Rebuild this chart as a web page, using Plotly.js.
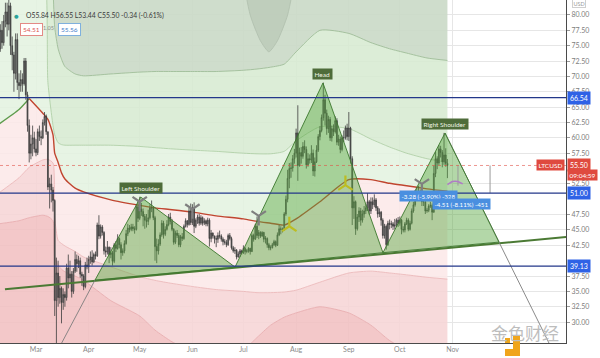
<!DOCTYPE html>
<html><head><meta charset="utf-8">
<script src="https://cdn.plot.ly/plotly-3.0.1.min.js"></script>
<style>html,body{margin:0;padding:0;background:#fff}#chart{width:600px;height:358px}</style>
</head><body><div id="chart"></div>
<script>
// ---------- DATA ----------
const startDate = '2020-02-08';
const firstOpen = 73.8;
const closes = [
 74.5,77.5,75.5,79.0,80.5,78.5,81.5,75.0,73.5,70.5,76.0,69.0,68.5,69.5,68.8,72.5,67.0,62.0,57.5,59.0,60.0,58.2,
 57.6,61.0,60.2,60.0,62.5,63.5,61.0,52.0,52.5,51.5,49.8,33.5,38.0,34.0,35.5,33.2,34.5,34.0,38.8,37.2,37.8,35.0,38.3,40.2,39.5,40.0,37.8,37.5,35.8,39.3,39.0,
 40.2,40.6,39.8,41.0,40.8,45.8,44.0,45.5,44.6,41.6,41.4,42.2,41.0,41.3,39.9,42.6,42.0,43.6,42.6,41.3,41.6,42.8,44.4,45.3,45.1,45.5,45.2,45.1,48.8,46.9,
 48.4,48.0,47.2,46.6,46.4,47.0,48.6,48.6,47.0,42.3,41.6,42.7,44.2,46.1,44.3,45.1,45.9,47.1,46.4,45.1,43.0,44.5,44.1,42.6,43.9,43.6,45.6,46.5,45.9,48.1,46.2,
 48.6,45.6,46.6,47.1,46.1,47.0,46.1,46.5,46.0,46.6,43.6,44.5,44.0,43.6,43.5,44.1,44.0,43.5,43.1,43.0,42.6,44.1,43.6,42.1,41.6,41.7,40.6,41.1,41.6,41.3,
 42.0,41.5,41.6,42.0,41.5,44.1,43.5,45.6,44.1,44.6,44.0,44.6,43.5,43.6,42.6,42.1,42.1,42.6,43.1,42.5,44.2,45.2,45.1,45.0,47.6,50.0,53.4,55.0,55.1,56.6,57.5,
 60.8,55.5,57.6,57.0,58.6,58.1,55.6,56.6,56.4,57.5,54.6,56.1,58.0,60.2,61.2,63.3,66.2,64.0,61.5,63.0,60.0,61.5,61.0,62.8,59.3,59.8,58.1,60.0,60.0,61.6,60.2,
 61.6,56.6,48.6,49.6,45.2,47.1,48.1,46.6,47.6,48.1,48.6,49.6,48.1,49.6,49.1,49.9,48.6,47.6,47.9,46.6,44.1,45.6,42.6,46.1,45.9,46.0,45.6,45.8,46.6,46.1,
 46.6,45.1,45.0,46.0,46.6,45.1,46.1,48.1,49.1,50.9,50.9,51.1,50.1,49.6,49.6,48.1,48.2,48.9,49.0,47.9,54.2,56.6,55.9,58.2,57.6,56.1,57.2,55.84,55.50
];
const highs = [
 76,78.5,79,80,82,82,83.5,82,76.5,74,77,77,70.5,71,70.5,73,73,67.5,63,60.5,62,61,
 59.8,61.5,62,61.2,63,64.2,63.8,61,53.5,54,52,50,40.5,40,37.5,35.8,35.5,35,39.5,41,40,38.3,38.8,41.5,41,40.8,40.5,38.2,37.8,39.8,40.5,
 40.8,41.5,41.7,41.3,41.5,46.2,47.4,45.9,45.8,44.8,42.3,43.2,42.3,42.2,41.6,42.9,43.2,44.3,43.8,43,42,43.3,45,46,45.8,46,46,45.6,49.2,49.8,
 50.4,49.4,48.5,47.6,47.6,48.3,49.2,49.8,48.8,47.3,43.6,43.5,44.6,46.6,46.5,45.6,46.6,47.6,47.8,46.8,45.3,44.9,45,44.5,44.2,44.5,45.9,46.9,46.6,48.6,49.3,
 49.2,49.5,46.9,47.5,47.6,47.4,47.2,46.9,46.7,47,46.9,45,44.6,44.1,44.1,44.6,44.9,44.3,43.8,43.5,43.4,44.4,44.5,43.9,42.4,42.2,41.9,41.5,41.9,41.8,
 42.5,42.2,41.9,42.2,42.1,44.4,44.4,46,47.2,45,44.8,44.8,44.7,44,43.8,42.9,42.5,42.9,43.4,43.3,44.6,45.8,45.6,45.4,47.9,50.6,54.8,55.9,56,57.2,58.2,
 61.5,65.3,58.4,58.5,59.3,59.6,58.6,57.5,57.3,58.8,58.1,56.8,58.8,60.6,61.9,63.8,69,67,64.6,63.6,63.4,62,62.2,63.5,63.2,60.5,60.2,60.4,61.2,62,62.3,
 64.2,61.8,57,50.5,49.8,47.6,48.7,48.6,48.3,48.9,49.2,51,49.9,50.3,50.3,50.8,50.2,48.9,48.5,48.1,46.9,46,45.9,46.5,46.7,46.5,46.3,46.8,46.9,47.1,
 47.2,46.8,45.6,46.3,47,46.9,46.5,48.5,49.6,51.5,51.9,52.2,51.6,50.6,50.3,49.9,48.6,49.2,49.6,49.3,55.5,57.7,57,58.8,58.7,58,60.8,58.3,56.55
];
const lows = [
 72.5,74,74.5,75,78,76.5,77.5,73.5,71,67.5,69.5,67.8,66.3,67.5,67.5,68.5,66.2,61,56,56.5,57,57.6,
 57,57.2,59.5,58.8,59.8,62,60.5,51.5,48.5,49.5,48,31,24,32.5,33,29.8,32,32.5,33.5,35.5,36.5,34,34.6,38,38.2,38.8,37.2,35.9,35.2,35.5,38.6,
 38,39.5,39.2,39.6,40.2,40.6,43.5,43.6,44.1,41,40.6,41,39.6,40.4,39.2,39.6,41.4,41.8,42,40.2,40.8,41.2,42.6,44,44.6,44.8,44.8,44.4,44.9,46.3,
 46.6,47.3,45.6,45.2,45.4,45.8,46.7,47.9,46.6,40,39.6,41,42.4,43.9,43.6,44,44.9,45.6,45.9,44.8,42.6,42.7,43.7,42.2,42.2,43.2,43.4,45.4,45.4,45.7,45.8,
 45.8,44.5,45.3,46,45.7,45.8,45.7,45.8,45.6,45.6,42.3,43,43.6,42.8,42.2,42.9,43.6,43.1,42.5,42.6,42.2,42.4,43.3,41.8,41.3,41.1,40.2,40.5,40.6,41,
 41.1,41,41.2,41.3,41,41.4,43.1,43.4,43.7,43.5,43.7,43.9,43,42.8,42.1,41.7,41.7,42,42.4,42.2,42.4,44,44.3,44.6,44.9,47.3,49.5,51.8,53.5,54.5,55.8,
 56.8,53,55.3,55.8,56.6,57.5,55,55.3,55.8,55.9,53.8,53.7,55.9,57.7,59.6,60.9,62.8,62,60.5,60.8,59.5,59.4,60.3,60.7,58.8,58.7,57.5,57.8,59.3,59.7,59.6,
 59.5,55.8,45.8,46.8,44.2,44.9,46.3,45.7,46.2,47,47.6,48.1,47.5,47.6,48.4,48.7,48.1,47,47.1,45.7,43.6,43.6,41.8,42.4,45.1,45.3,45,45.1,45.5,45.5,
 45.7,44.3,44.6,44.6,45.8,44.8,44.9,45.9,47.8,48.8,50.2,50.3,49.8,48.9,48.9,47.6,47.8,47.9,48.6,46.6,47.8,53.6,54.9,55.5,56.8,55.2,55.6,55.3,53.44
];

// indicator bands
const bandDates = ['2020-02-08','2020-02-20','2020-02-26','2020-03-05','2020-03-08','2020-03-11','2020-03-12','2020-03-14','2020-03-16','2020-03-18',
 '2020-03-24','2020-03-29','2020-04-14','2020-05-01','2020-05-10','2020-05-20','2020-06-01','2020-06-15','2020-07-01','2020-07-09',
 '2020-07-17','2020-07-25','2020-08-01','2020-08-15','2020-09-01','2020-09-14','2020-09-25','2020-10-05','2020-10-17','2020-10-29'];
const midLine = [62.2,64.6,66.4,64.0,63.0,60.5,57.5,56.0,54.3,53.3,51.8,51.2,49.9,49.0,48.6,48.3,47.9,47.3,46.8,46.4,46.1,45.8,46.8,49.6,53.2,53.2,52.6,52.2,51.7,51.3];
const upper1 = [88,88,88,88,69,62,60.5,59.2,58.9,58.8,58.8,58.8,58.8,58.6,58.4,58.2,58.0,57.8,57.5,57.4,57.4,57.8,59.5,61.8,61.5,59.8,58.5,57.5,56.6,56.0];
const upper2 = [95,95,95,95,95,84,78,74.5,72.8,71.6,70.4,70.1,70.4,70.7,70.8,70.8,70.8,70.8,71.0,71.2,71.5,72.0,74.0,77.5,77.0,75.5,74.5,73.8,73.0,72.6];
const lower1 = [51,53.5,55.2,56.4,56.5,55.9,47,43.3,42.8,42.4,41.5,40.6,39.0,37.4,36.8,36.3,35.8,35.3,35.0,34.8,34.8,34.9,35.2,36.5,38.0,38.3,38.0,37.7,37.3,37.0];
const lower2 = [46,46.5,47.0,47.4,47.2,46.5,40.5,39.3,38.6,38.2,37.5,36.8,33.5,31.0,28.7,26.8,25.2,24.5,25.5,27.5,29.5,30.8,31.5,32.5,31.5,29.5,27.0,25.5,24.5,24.0];
const valleyDates = ['2020-06-27','2020-07-05','2020-07-11','2020-07-16','2020-07-21','2020-07-27','2020-08-04'];
const valleyPrices = [92,80,75.8,74.0,75.8,80,92];
const bandCeiling = 95;

// drawings
const hsDates  = ['2020-04-04 17:00','2020-05-01 14:00','2020-06-26 02:00','2020-08-16 19:00','2020-09-21 02:00','2020-10-27 14:00','2020-11-28 09:00'];
const hsPrices = [36.84, 50.36, 38.96, 68.93, 41.3, 60.78, 43.03];
const hsLabels = ['Left Shoulder','Head','Right Shoulder'];
const neckDates = ['2020-02-11 18:00','2021-01-06 18:00'];
const neckPrices = [35.37, 43.84];
const extLeftDates = ['2020-03-11 03:00','2020-04-04 17:00'];
const extLeftPrices = [24, 36.84];
const extRightDates = ['2020-10-27 14:00','2021-01-01 09:00'];
const extRightPrices = [60.78, 24];
const levels = [66.54, 51.00, 39.13];
const lastPrice = 55.50;
const vDates = ['2020-05-01','2020-06-01','2020-07-10','2020-10-14'];
const vPrices = [49.6, 48.4, 47.3, 52.5];
const upDates = ['2020-07-28','2020-08-30'];
const upPrices = [45.6, 52.3];
const measDates = ['2020-11-04 05:00','2020-11-23 02:00'];
const measFrom = [55.5, 55.5];
const measTo = [52.22, 50.99];
const measText = ['-3.28 (-5.90%) -328','-4.51 (-8.11%) -451'];
const arcDates = ['2020-10-29','2020-11-01','2020-11-04','2020-11-07'];
const arcPrices = [52.4, 52.9, 52.9, 52.5];
const monthTicks = ['2020-03-01','2020-04-01','2020-05-01','2020-06-01','2020-07-01','2020-08-01','2020-09-01','2020-10-01','2020-11-01'];
const monthLabels = ['Mar','Apr','May','Jun','Jul','Aug','Sep','Oct','Nov'];
const yTicks = [30,32.5,35,37.5,42.5,45,47.5,52.5,57.5,60,62.5,65,67.5,70,72.5,75,77.5,80];
const headerText = 'O55.84 H56.55 L53.44 C55.50 -0.34 (-0.61%)';

// ---------- BUILD ----------
const DAY = 86400000;
const t0 = Date.parse(startDate + 'T00:00:00Z');
const dates = closes.map((_, i) => new Date(t0 + i * DAY).toISOString().slice(0, 10));
const opens = [firstOpen].concat(closes.slice(0, -1));

const xRange = ['2020-02-08 19:40', '2021-01-06 18:00'];
const yRange = [26.6, 82.44];
const W = 566, H = 343;
const fx = x => x / W, fy = y => 1 - y / H;

const sp = {shape: 'spline', smoothing: 0.6};
const traces = [];
traces.push({x: bandDates, y: lower2, mode: 'lines', line: Object.assign({color: '#e6a7a9', width: 0.8}, sp), fill: 'tozeroy', fillcolor: 'rgba(241,190,192,0.85)', hoverinfo: 'skip'});
traces.push({x: bandDates, y: lower1, mode: 'lines', line: Object.assign({color: '#eab2b4', width: 0.8}, sp), fill: 'tonexty', fillcolor: 'rgba(246,212,213,0.85)', hoverinfo: 'skip'});
traces.push({x: bandDates, y: midLine, mode: 'lines', line: Object.assign({color: 'rgba(0,0,0,0)', width: 0}, sp), fill: 'tonexty', fillcolor: 'rgba(251,232,232,0.85)', hoverinfo: 'skip'});
traces.push({x: bandDates, y: upper1, mode: 'lines', line: Object.assign({color: '#a9cc9f', width: 0.8}, sp), fill: 'tonexty', fillcolor: 'rgba(228,242,224,0.88)', hoverinfo: 'skip'});
traces.push({x: bandDates, y: upper2, mode: 'lines', line: Object.assign({color: '#97b88f', width: 0.8}, sp), fill: 'tonexty', fillcolor: 'rgba(215,234,209,0.88)', hoverinfo: 'skip'});
traces.push({x: bandDates, y: bandDates.map(() => bandCeiling), mode: 'lines', line: {width: 0, color: 'rgba(0,0,0,0)'}, fill: 'tonexty', fillcolor: 'rgba(202,217,198,0.9)', hoverinfo: 'skip'});
traces.push({x: valleyDates, y: valleyPrices, mode: 'lines', line: Object.assign({color: '#b0bfad', width: 0.8}, sp), hoverinfo: 'skip'});
traces.push({x: valleyDates, y: valleyDates.map(() => bandCeiling), mode: 'lines', line: {width: 0, color: 'rgba(0,0,0,0)'}, fill: 'tonexty', fillcolor: 'rgba(190,204,187,0.95)', hoverinfo: 'skip'});
traces.push({x: bandDates.slice(0, 3), y: midLine.slice(0, 3), mode: 'lines', line: Object.assign({color: '#5d9b4c', width: 1.3}, sp), hoverinfo: 'skip'});
traces.push({x: bandDates.slice(2), y: midLine.slice(2), mode: 'lines', line: Object.assign({color: '#c0452f', width: 1.4}, sp), hoverinfo: 'skip'});

const ov = {xaxis: 'x2', yaxis: 'y2', hoverinfo: 'skip'};
traces.push(Object.assign({type: 'candlestick', x: dates, open: opens, high: highs, low: lows, close: closes,
  increasing: {line: {color: '#3c3c3c', width: 0.8}, fillcolor: '#9c9c9c'},
  decreasing: {line: {color: '#3c3c3c', width: 0.8}, fillcolor: '#505050'},
  whiskerwidth: 0}, ov));
traces.push(Object.assign({x: neckDates, y: neckPrices, mode: 'lines', line: {color: '#4b7a34', width: 2}}, ov));
traces.push(Object.assign({x: extLeftDates, y: extLeftPrices, mode: 'lines', line: {color: '#7d7d7d', width: 0.9}}, ov));
traces.push(Object.assign({x: extRightDates, y: extRightPrices, mode: 'lines', line: {color: '#7d7d7d', width: 0.9}}, ov));
for (let k = 0; k < 3; k++) {
  const idx = [2 * k, 2 * k + 1, 2 * k + 2, 2 * k];
  traces.push(Object.assign({x: idx.map(i => hsDates[i]), y: idx.map(i => hsPrices[i]), mode: 'lines', fill: 'toself',
    fillcolor: 'rgba(86,166,62,0.45)', line: {color: 'rgba(60,120,45,0.9)', width: 1}}, ov));
}
traces.push(Object.assign({x: vDates, y: vPrices, mode: 'markers', marker: {symbol: 'y-down-open', size: 12, line: {color: '#e2462f', width: 2.2}}}, ov));
traces.push(Object.assign({x: upDates, y: upPrices, mode: 'markers', marker: {symbol: 'y-up-open', size: 12, line: {color: '#e2462f', width: 2.2}}}, ov));
for (let k = 0; k < measDates.length; k++) {
  traces.push(Object.assign({x: [measDates[k], measDates[k]], y: [measFrom[k], measTo[k]], mode: 'lines', line: {color: '#9a9a9a', width: 1}}, ov));
}
traces.push(Object.assign({x: arcDates, y: arcPrices, mode: 'lines', line: Object.assign({color: '#b07cc6', width: 1.5}, sp)}, ov));

const shapes = [];
levels.forEach(v => shapes.push({type: 'line', xref: 'paper', x0: 0, x1: 1, yref: 'y', y0: v, y1: v, line: {color: '#23378a', width: 1.3}}));
shapes.push({type: 'line', xref: 'paper', x0: 0, x1: 1, yref: 'y', y0: lastPrice, y1: lastPrice, line: {color: 'rgba(224,80,70,0.6)', width: 1, dash: 'dot'}});
shapes.push({type: 'rect', xref: 'paper', yref: 'paper', x0: fx(513), x1: fx(520), y0: fy(356), y1: fy(335), fillcolor: '#f0a51c', line: {width: 0}});
shapes.push({type: 'rect', xref: 'paper', yref: 'paper', x0: fx(505), x1: fx(520), y0: fy(356), y1: fy(349), fillcolor: '#f0a51c', line: {width: 0}});
shapes.push({type: 'rect', xref: 'paper', yref: 'paper', x0: fx(505), x1: fx(510), y0: fy(343), y1: fy(338), fillcolor: '#f0a51c', line: {width: 0}});

const F = 'Lato, "Open Sans", "DejaVu Sans", sans-serif';
const ann = [];
[1, 3, 5].forEach((i, k) => ann.push({xref: 'x2', yref: 'y2', x: hsDates[i], y: hsPrices[i], text: hsLabels[k], showarrow: false,
  yanchor: 'bottom', yshift: 3, bgcolor: '#4e6c3a', borderpad: 1.5, font: {family: F, size: 6.5, color: '#eef4e6'}}));
levels.forEach(v => ann.push({xref: 'paper', x: 1, xanchor: 'left', xshift: 1, yref: 'y', y: v, text: v.toFixed(2), showarrow: false,
  bgcolor: '#2f62e6', borderpad: 2, font: {family: F, size: 7, color: '#ffffff'}}));
ann.push({xref: 'paper', x: 1, xanchor: 'left', xshift: 1, yref: 'y', y: lastPrice, text: lastPrice.toFixed(2), showarrow: false, bgcolor: '#df4a3f', borderpad: 2, font: {family: F, size: 7, color: '#fff'}});
ann.push({xref: 'paper', x: 1, xanchor: 'left', xshift: 1, yref: 'y', y: lastPrice, yshift: -10, text: '09:04:59', showarrow: false, bgcolor: '#df4a3f', borderpad: 1.5, font: {family: F, size: 6.5, color: '#fff'}});
ann.push({xref: 'paper', x: 1, xanchor: 'right', xshift: -1, yref: 'y', y: lastPrice, text: 'LTCUSD', showarrow: false, bgcolor: '#df4a3f', borderpad: 1.5, font: {family: F, size: 6.5, color: '#fff'}});
ann.push({xref: 'paper', yref: 'paper', x: fx(586), y: fy(3.5), yanchor: 'middle', text: 'USD', showarrow: false, bordercolor: '#cfcfcf', borderwidth: 1, borderpad: 0.5, font: {family: F, size: 5.5, color: '#9a9a9a'}});
ann.push({xref: 'paper', yref: 'paper', x: fx(458), y: fy(195.5), text: measText[0], showarrow: false, bgcolor: '#4a8fe0', borderpad: 1.5, font: {family: F, size: 6.2, color: '#fff'}});
ann.push({xref: 'paper', yref: 'paper', x: fx(491), y: fy(204), text: measText[1], showarrow: false, bgcolor: '#4a8fe0', borderpad: 1.5, font: {family: F, size: 6.2, color: '#fff'}});
ann.push({xref: 'paper', yref: 'paper', x: fx(12), y: fy(9), text: '●', showarrow: false, font: {size: 8, color: '#2aa39a'}});
ann.push({xref: 'paper', yref: 'paper', x: fx(24), xanchor: 'left', y: fy(9), text: headerText, showarrow: false, font: {family: F, size: 6.8, color: '#3a3a3a'}});
ann.push({xref: 'paper', yref: 'paper', x: fx(19.5), y: fy(23), text: '54.51', showarrow: false, bgcolor: '#fff', bordercolor: '#e38a86', borderwidth: 1, borderpad: 2, font: {family: F, size: 6.5, color: '#d9534f'}});
ann.push({xref: 'paper', yref: 'paper', x: fx(40.5), y: fy(23), text: '1.05', showarrow: false, font: {family: F, size: 5.5, color: '#8a8a8a'}});
ann.push({xref: 'paper', yref: 'paper', x: fx(58), y: fy(23), text: '55.56', showarrow: false, bgcolor: '#fff', bordercolor: '#7fb0dd', borderwidth: 1, borderpad: 2, font: {family: F, size: 6.5, color: '#3d7cc9'}});
ann.push({xref: 'paper', yref: 'paper', x: fx(561), y: fy(347), text: '金色财经', showarrow: false, font: {family: '"Noto Sans CJK SC", sans-serif', size: 17, color: '#bdbdbd'}});

const layout = {
  width: 600, height: 358,
  margin: {l: 0, r: 34, t: 0, b: 15, pad: 0},
  paper_bgcolor: '#ffffff', plot_bgcolor: '#ffffff',
  showlegend: false,
  font: {family: F, size: 7, color: '#7d7d7d'},
  xaxis: {type: 'date', range: xRange, tickvals: monthTicks, ticktext: monthLabels, showgrid: true, gridcolor: '#e6e6e6',
    showline: true, linecolor: '#4a4a4a', linewidth: 1, ticks: '', tickfont: {family: F, size: 7, color: '#8a8a8a'},
    rangeslider: {visible: false}, zeroline: false, fixedrange: true},
  yaxis: {range: yRange, side: 'right', tickvals: yTicks, tickformat: '.2f', showgrid: true, gridcolor: '#e6e6e6',
    showline: true, linecolor: '#4a4a4a', linewidth: 1, ticks: 'outside', ticklen: 3, tickcolor: '#9a9a9a',
    tickfont: {family: F, size: 7, color: '#7d7d7d'}, zeroline: false, fixedrange: true},
  xaxis2: {type: 'date', range: xRange, overlaying: 'x', anchor: 'y2', visible: false, showgrid: false, rangeslider: {visible: false}},
  yaxis2: {range: yRange, overlaying: 'y', anchor: 'x2', visible: false, showgrid: false},
  shapes: shapes, annotations: ann
};
Plotly.newPlot('chart', traces, layout, {staticPlot: true, displayModeBar: false});
</script>
</body></html>
